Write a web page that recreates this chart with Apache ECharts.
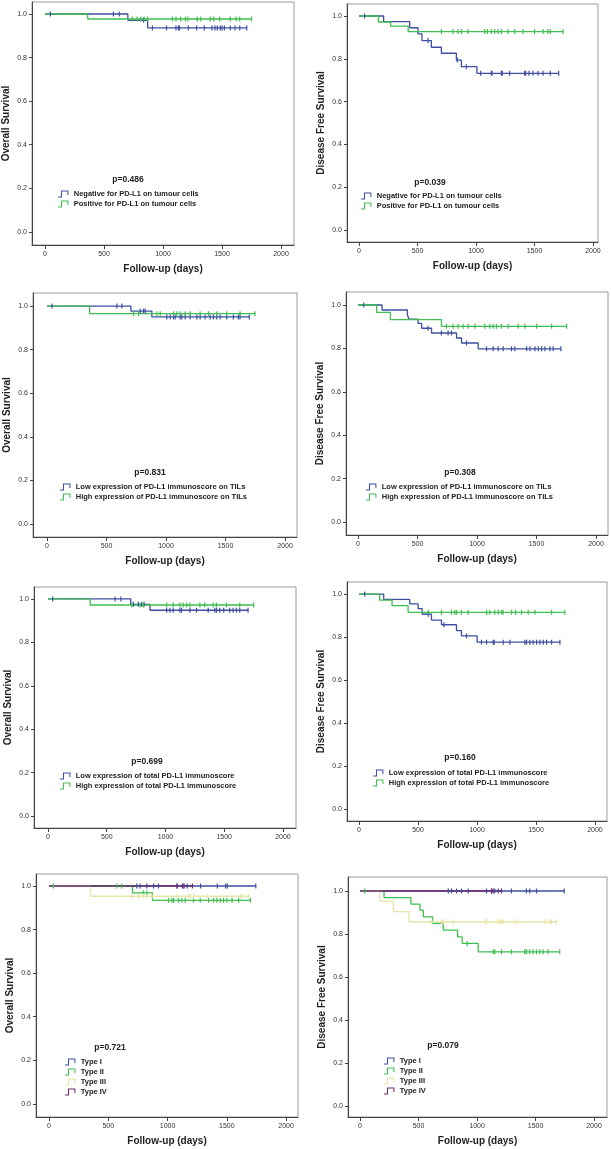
<!DOCTYPE html>
<html>
<head>
<meta charset="utf-8">
<title>PD-L1 survival curves</title>
<script src="https://cdn.jsdelivr.net/npm/echarts@6/dist/echarts.min.js"></script>
<style>
  html, body { margin: 0; padding: 0; background: #fff; }
  #main { width: 611px; height: 1149px; }
</style>
</head>
<body>
<div id="main"></div>
<script>
// axis ticks
const xTicks = [0, 500, 1000, 1500, 2000];
const yTicks = [0, 0.2, 0.4, 0.6, 0.8, 1.0];

// legend labels
const tumourNames = ['Negative for PD-L1 on tumour cells', 'Positive for PD-L1 on tumour cells'];
const tilNames = ['Low expression of PD-L1 immunoscore on TILs', 'High expression of PD-L1 immunoscore on TILs'];
const totalNames = ['Low expression of total PD-L1 immunoscore', 'High expression of total PD-L1 immunoscore'];
const typeNames = ['Type I', 'Type II', 'Type III', 'Type IV'];

// curves: steps = [day, survival after event], censored = days with a tick mark
// overall survival, tumour cells
const osTumourNegSteps = [[0, 1], [702, 0.971], [870, 0.936]];
const osTumourNegCensored = [45, 580, 630, 835, 910, 1030, 1110, 1130, 1140, 1215, 1285, 1350, 1415, 1440, 1460, 1485, 1500, 1520, 1570, 1610, 1650, 1710];
const osTumourPosSteps = [[0, 1], [362, 0.977]];
const osTumourPosCensored = [740, 780, 810, 840, 870, 1080, 1110, 1150, 1190, 1210, 1290, 1320, 1400, 1430, 1480, 1570, 1620, 1650, 1750];

// disease free survival, tumour cells
const dfsTumourNegSteps = [[0, 1], [210, 0.974], [433, 0.945], [504, 0.916], [538, 0.885], [618, 0.854], [704, 0.826], [832, 0.794], [875, 0.763], [1008, 0.732]];
const dfsTumourNegCensored = [48, 590, 840, 917, 1040, 1131, 1137, 1217, 1225, 1288, 1416, 1425, 1453, 1487, 1530, 1573, 1635, 1707];
const dfsTumourPosSteps = [[0, 1], [165, 0.972], [270, 0.953], [420, 0.927]];
const dfsTumourPosCensored = [704, 803, 846, 875, 932, 1074, 1097, 1131, 1160, 1188, 1217, 1274, 1331, 1402, 1501, 1573, 1615, 1635, 1744];

// overall survival, TILs
const osTilLowSteps = [[0, 1], [705, 0.977], [881, 0.950]];
const osTilLowCensored = [42, 587, 629, 783, 811, 825, 1007, 1035, 1063, 1077, 1119, 1133, 1161, 1203, 1259, 1287, 1329, 1371, 1399, 1427, 1455, 1510, 1566, 1608, 1622, 1700];
const osTilHighSteps = [[0, 1], [358, 0.965]];
const osTilHighCensored = [727, 769, 923, 951, 1063, 1091, 1119, 1161, 1203, 1287, 1357, 1427, 1510, 1622, 1748];

// disease free survival, TILs
const dfsTilLowSteps = [[0, 1], [202, 0.977], [415, 0.955], [428, 0.935], [505, 0.915], [535, 0.893], [618, 0.871], [828, 0.848], [870, 0.825], [1010, 0.798]];
const dfsTilLowCensored = [48, 589, 701, 757, 785, 912, 1080, 1136, 1178, 1220, 1290, 1318, 1417, 1445, 1487, 1515, 1543, 1571, 1613, 1641, 1705];
const dfsTilHighSteps = [[0, 1], [157, 0.966], [272, 0.933], [701, 0.902]];
const dfsTilHighCensored = [743, 799, 841, 884, 926, 982, 1066, 1108, 1136, 1164, 1206, 1262, 1346, 1403, 1501, 1627, 1753];

// overall survival, total immunoscore
const osTotalLowSteps = [[0, 1], [704, 0.975], [868, 0.948]];
const osTotalLowCensored = [40, 571, 620, 727, 769, 798, 818, 1010, 1038, 1066, 1123, 1137, 1208, 1264, 1364, 1420, 1434, 1462, 1496, 1547, 1576, 1604, 1632, 1703];
const osTotalHighSteps = [[0, 1], [359, 0.972]];
const osTotalHighCensored = [713, 784, 812, 1010, 1066, 1123, 1151, 1180, 1208, 1293, 1335, 1406, 1434, 1519, 1632, 1751];

// disease free survival, total immunoscore
const dfsTotalLowSteps = [[0, 1], [209, 0.975], [430, 0.954], [501, 0.932], [535, 0.906], [614, 0.879], [699, 0.857], [826, 0.830], [868, 0.805], [1001, 0.776]];
const dfsTotalLowCensored = [48, 586, 720, 911, 1038, 1081, 1137, 1146, 1222, 1279, 1406, 1420, 1448, 1476, 1505, 1533, 1562, 1590, 1632, 1703];
const dfsTotalHighSteps = [[0, 1], [175, 0.972], [280, 0.946], [416, 0.915]];
const dfsTotalHighCensored = [586, 699, 784, 812, 826, 868, 925, 1081, 1109, 1151, 1180, 1208, 1222, 1293, 1327, 1378, 1434, 1491, 1632, 1745];

// overall survival, types
const osType1Steps = [[0, 1]];
const osType1Censored = [741, 769, 825, 882, 924, 1082, 1124, 1166, 1279, 1420, 1490, 1504, 1745];
const osType2Steps = [[0, 1], [704, 0.968], [873, 0.934]];
const osType2Censored = [37, 572, 614, 797, 825, 1008, 1037, 1051, 1093, 1121, 1149, 1220, 1276, 1346, 1389, 1417, 1445, 1473, 1501, 1544, 1600, 1699];
const osType3Steps = [[0, 1], [352, 0.953]];
const osType3Censored = [699, 755, 797, 825, 868, 1079, 1177, 1192, 1220, 1332, 1614, 1628, 1685];
const osType4Steps = [[0, 1]];
const osType4Censored = [1080, 1130, 1140, 1210];

// disease free survival, types
const dfsType1Steps = [[0, 1]];
const dfsType1Censored = [754, 782, 825, 868, 925, 1081, 1124, 1152, 1181, 1294, 1422, 1451, 1508, 1745];
const dfsType2Steps = [[0, 1], [205, 0.969], [435, 0.939], [512, 0.911], [541, 0.880], [620, 0.849], [711, 0.818], [834, 0.787], [873, 0.756], [1010, 0.717]];
const dfsType2Censored = [40, 916, 1138, 1152, 1209, 1294, 1408, 1422, 1451, 1479, 1508, 1536, 1565, 1607, 1707];
const dfsType3Steps = [[0, 1], [171, 0.953], [284, 0.904], [418, 0.857]];
const dfsType3Censored = [612, 697, 711, 797, 1067, 1081, 1181, 1195, 1209, 1223, 1323, 1351, 1579, 1622, 1636, 1679];
const dfsType4Steps = [[0, 1]];
const dfsType4Censored = [1124, 1138, 1209];

const curveColors = ['#3d4fa3', '#3fbf50', '#e9e5a9', '#6b2c6f'];
const font = "'Liberation Sans', Arial, sans-serif";
const stepIcon = 'path://M0,8 L4,8 L4,0 L14,0 L14,6 L12.6,6 L12.6,1.4 L5.4,1.4 L5.4,9.4 L0,9.4 Z';

// layout per panel: grid [left, top, width, height], axis ranges, text spots
const panels = [
  { grid: [32, 2, 262, 243], x: [-110, 2110], y: [-0.060, 1.055], yName: 'Overall Survival', p: 'p=0.486', pAt: [128, 180], legendAt: [58, 190],
    names: tumourNames, curves: [[osTumourNegSteps, osTumourNegCensored], [osTumourPosSteps, osTumourPosCensored]] },
  { grid: [347, 4, 251, 238], x: [-103, 2043], y: [-0.056, 1.056], yName: 'Disease Free Survival', p: 'p=0.039', pAt: [430, 183], legendAt: [361, 192],
    names: tumourNames, curves: [[dfsTumourNegSteps, dfsTumourNegCensored], [dfsTumourPosSteps, dfsTumourPosCensored]] },
  { grid: [33, 293, 264, 244], x: [-118, 2101], y: [-0.060, 1.060], yName: 'Overall Survival', p: 'p=0.831', pAt: [150, 473], legendAt: [60, 483],
    names: tilNames, curves: [[osTilLowSteps, osTilLowCensored], [osTilHighSteps, osTilHighCensored]] },
  { grid: [346, 292, 262, 243], x: [-101, 2101], y: [-0.060, 1.060], yName: 'Disease Free Survival', p: 'p=0.308', pAt: [460, 473], legendAt: [366, 483],
    names: tilNames, curves: [[dfsTilLowSteps, dfsTilLowCensored], [dfsTilHighSteps, dfsTilHighCensored]] },
  { grid: [34, 587, 262, 241], x: [-119, 2111], y: [-0.055, 1.055], yName: 'Overall Survival', p: 'p=0.699', pAt: [147, 762], legendAt: [60, 772],
    names: totalNames, curves: [[osTotalLowSteps, osTotalLowCensored], [osTotalHighSteps, osTotalHighCensored]] },
  { grid: [347, 582, 260, 239], x: [-102, 2102], y: [-0.056, 1.056], yName: 'Disease Free Survival', p: 'p=0.160', pAt: [460, 758], legendAt: [373, 769],
    names: totalNames, curves: [[dfsTotalLowSteps, dfsTotalLowCensored], [dfsTotalHighSteps, dfsTotalHighCensored]] },
  { grid: [36, 874, 262, 243], x: [-110, 2101], y: [-0.060, 1.055], yName: 'Overall Survival', p: 'p=0.721', pAt: [110, 1048], legendAt: [65, 1058],
    names: typeNames, curves: [[osType1Steps, osType1Censored], [osType2Steps, osType2Censored], [osType3Steps, osType3Censored], [osType4Steps, osType4Censored]] },
  { grid: [348, 877, 259, 240], x: [-103, 2111], y: [-0.051, 1.065], yName: 'Disease Free Survival', p: 'p=0.079', pAt: [443, 1046], legendAt: [384, 1057],
    names: typeNames, curves: [[dfsType1Steps, dfsType1Censored], [dfsType2Steps, dfsType2Censored], [dfsType3Steps, dfsType3Censored], [dfsType4Steps, dfsType4Censored]] }
];

// step points plus censor ticks sitting on the current level
function kmData(steps, censored) {
  const items = steps.map(s => ({ value: s, symbol: 'none' }));
  censored.forEach(t => {
    let level = 1;
    steps.forEach(s => { if (s[0] <= t) level = s[1]; });
    items.push({ value: [t, level], symbol: 'rect', symbolSize: [1.2, 5] });
  });
  items.sort((a, b) => a.value[0] - b.value[0]);
  return items;
}

const option = {
  animation: false,
  backgroundColor: '#fff',
  grid: [], xAxis: [], yAxis: [], legend: [], series: [], graphic: []
};

panels.forEach((pn, i) => {
  option.grid.push({
    left: pn.grid[0], top: pn.grid[1], width: pn.grid[2], height: pn.grid[3],
    show: true, borderColor: '#9a9a9a', borderWidth: 1, backgroundColor: '#fff'
  });
  option.xAxis.push({
    gridIndex: i, type: 'value', min: pn.x[0], max: pn.x[1],
    name: 'Follow-up (days)', nameLocation: 'middle', nameGap: 19,
    nameTextStyle: { fontFamily: font, fontSize: 10, fontWeight: 'bold', color: '#222' },
    axisLine: { onZero: false, lineStyle: { color: '#444', width: 1 } },
    axisTick: { customValues: xTicks, length: 4, lineStyle: { color: '#444' } },
    axisLabel: { customValues: xTicks, margin: 6, fontFamily: font, fontSize: 7, color: '#333',
      formatter: v => String(v) },
    splitLine: { show: false }
  });
  option.yAxis.push({
    gridIndex: i, type: 'value', min: pn.y[0], max: pn.y[1],
    name: pn.yName, nameLocation: 'middle', nameGap: 21, nameRotate: 90,
    nameTextStyle: { fontFamily: font, fontSize: 10, fontWeight: 'bold', color: '#222' },
    axisLine: { show: true, onZero: false, lineStyle: { color: '#444', width: 1 } },
    axisTick: { show: true, customValues: yTicks, length: 3, lineStyle: { color: '#444' } },
    axisLabel: { customValues: yTicks, margin: 5, fontFamily: font, fontSize: 7, color: '#333',
      formatter: v => v.toFixed(1) },
    splitLine: { show: false }
  });
  pn.curves.forEach((c, k) => {
    option.series.push({
      name: pn.names[k], type: 'line', xAxisIndex: i, yAxisIndex: i,
      step: 'end', color: curveColors[k], showAllSymbol: true,
      lineStyle: { width: 1.3, color: curveColors[k] },
      itemStyle: { color: curveColors[k] },
      data: kmData(c[0], c[1])
    });
  });
  option.legend.push({
    orient: 'vertical', left: pn.legendAt[0], top: pn.legendAt[1], padding: 0,
    itemWidth: 11, itemHeight: 7, itemGap: 2, selectedMode: false,
    textStyle: { fontFamily: font, fontSize: 7.5, fontWeight: 'bold', color: '#222', lineHeight: 8 },
    data: pn.names.map(n => ({ name: n, icon: stepIcon }))
  });
  option.graphic.push({
    type: 'text', x: pn.pAt[0], y: pn.pAt[1],
    style: { text: pn.p, font: 'bold 8.5px ' + font, fill: '#222',
      align: 'center', verticalAlign: 'middle', textAlign: 'center', textVerticalAlign: 'middle' }
  });
});

const chart = echarts.init(document.getElementById('main'));
chart.setOption(option);
</script>
</body>
</html>
